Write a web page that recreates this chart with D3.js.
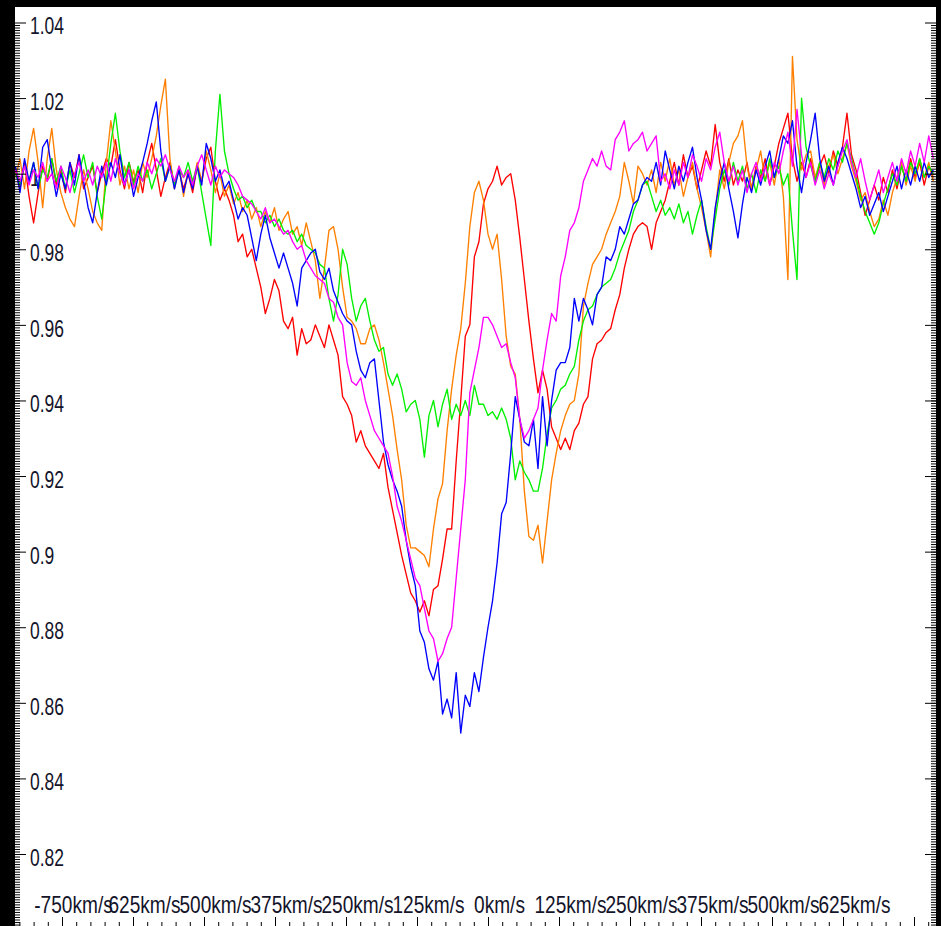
<!DOCTYPE html>
<html>
<head>
<meta charset="utf-8">
<script src="https://cdn.jsdelivr.net/npm/d3@7"></script>
<style>
  html, body { margin: 0; padding: 0; background: #000; }
  svg { display: block; }
</style>
</head>
<body>
<svg id="chart" width="941" height="926"></svg>
<script>
// Velocity grid of the spectra (km/s): first sample and spacing
const velocityStart = -832;
const velocityStep = 8;

// Normalised flux per spectrum, one value per velocity sample
const red = [
  1.001,0.996,1.003,0.994,0.987,0.995,1.002,0.998,1.004,0.997,
  1.001,0.995,1.003,0.999,1.005,0.996,0.999,1.002,0.995,1.000,
  1.004,1.002,1.009,1.001,0.996,1.003,0.998,1.001,0.995,1.003,
  1.008,1.001,0.994,0.999,1.003,0.997,1.001,0.996,1.000,0.995,
  1.002,0.998,1.004,1.007,0.998,0.993,0.996,0.993,0.989,0.982,
  0.984,0.978,0.980,0.975,0.970,0.963,0.967,0.972,0.969,0.961,
  0.959,0.962,0.952,0.959,0.955,0.956,0.960,0.957,0.954,0.960,
  0.956,0.952,0.941,0.939,0.936,0.929,0.932,0.928,0.926,0.924,
  0.922,0.926,0.917,0.911,0.905,0.899,0.894,0.889,0.887,0.884,
  0.887,0.883,0.890,0.891,0.898,0.906,0.906,0.924,0.940,0.957,
  0.960,0.978,0.982,0.992,0.996,0.998,1.002,0.997,0.999,1.000,
  0.993,0.983,0.972,0.961,0.951,0.942,0.948,0.943,0.933,0.930,
  0.927,0.930,0.927,0.932,0.934,0.939,0.941,0.951,0.955,0.956,
  0.958,0.959,0.964,0.968,0.975,0.980,0.984,0.986,0.987,0.986,
  0.980,0.987,0.990,0.993,0.998,1.003,0.997,1.005,0.999,1.002,
  0.996,1.001,1.006,1.002,1.013,1.003,0.998,1.004,0.997,1.001,
  0.998,1.003,0.996,1.002,0.999,1.004,0.997,1.002,1.008,1.012,
  1.016,1.004,0.998,1.003,0.999,1.004,0.998,1.002,1.005,1.000,
  1.006,1.002,1.007,1.016,1.005,1.001,0.995,0.989,0.993,0.997,
  0.993,0.999,0.995,1.001,0.996,1.002,0.998,1.004,0.999,1.003,
  0.997,1.002,0.999
];

const orange = [
  0.999,1.004,0.996,1.006,1.012,1.003,0.991,1.004,1.012,1.001,
  0.995,0.991,0.988,0.986,0.994,1.001,0.996,0.990,0.987,0.985,
  1.003,1.014,1.006,0.997,1.002,0.996,1.001,0.995,1.003,0.999,
  1.004,1.010,1.018,1.025,1.004,0.996,1.002,0.994,1.001,0.997,
  1.003,0.998,1.006,1.001,0.995,1.000,0.994,0.997,0.992,0.995,
  0.990,0.993,0.988,0.991,0.986,0.990,0.987,0.991,0.985,0.988,
  0.990,0.984,0.986,0.981,0.987,0.982,0.977,0.967,0.975,0.985,
  0.986,0.980,0.970,0.962,0.961,0.959,0.955,0.955,0.959,0.960,
  0.956,0.950,0.943,0.936,0.927,0.919,0.907,0.901,0.901,0.900,
  0.899,0.896,0.906,0.914,0.918,0.932,0.943,0.952,0.959,0.971,
  0.986,0.995,0.998,0.993,0.984,0.980,0.984,0.972,0.957,0.949,
  0.947,0.935,0.916,0.904,0.903,0.907,0.897,0.908,0.919,0.926,
  0.932,0.936,0.939,0.940,0.947,0.965,0.971,0.976,0.978,0.980,
  0.984,0.987,0.990,0.994,1.003,0.998,0.992,1.002,1.000,0.997,
  1.001,0.995,1.003,0.998,1.004,0.997,1.001,0.994,0.999,1.003,
  0.996,0.991,0.985,0.978,0.990,1.001,0.996,1.003,1.008,1.010,
  1.014,1.002,0.996,1.001,1.006,0.998,1.003,0.997,1.004,0.994,
  0.972,1.031,1.009,1.001,1.005,1.006,0.999,1.003,0.997,1.002,
  1.005,1.000,1.004,1.008,1.002,0.998,0.993,0.995,0.990,0.986,
  0.988,0.993,0.989,0.995,0.999,1.003,0.997,1.002,0.998,1.004,
  0.999,1.003,0.998
];

const green = [
  1.000,0.997,1.002,0.998,1.003,0.996,1.001,0.999,1.004,0.998,
  1.002,0.996,1.001,0.995,1.000,1.005,0.999,1.003,0.994,0.988,
  0.998,1.008,1.016,1.006,0.999,1.003,0.997,1.002,0.998,1.001,
  0.996,1.000,1.004,0.998,1.002,0.997,1.001,0.999,1.003,0.998,
  1.002,0.995,0.988,0.981,1.006,1.021,1.006,1.000,0.996,0.993,
  0.994,0.991,0.993,0.990,0.990,0.987,0.989,0.986,0.988,0.985,
  0.984,0.985,0.982,0.984,0.981,0.980,0.979,0.976,0.975,0.967,
  0.961,0.968,0.980,0.976,0.967,0.961,0.965,0.967,0.961,0.956,
  0.953,0.954,0.947,0.944,0.947,0.943,0.937,0.939,0.940,0.935,
  0.925,0.936,0.940,0.933,0.939,0.943,0.935,0.939,0.936,0.940,
  0.936,0.944,0.939,0.939,0.936,0.937,0.935,0.938,0.935,0.930,
  0.919,0.924,0.921,0.919,0.916,0.916,0.922,0.931,0.938,0.940,
  0.943,0.944,0.947,0.949,0.956,0.961,0.964,0.965,0.968,0.970,
  0.971,0.972,0.975,0.979,0.982,0.985,0.990,0.993,0.997,0.998,
  0.994,0.990,0.993,0.989,0.991,0.988,0.992,0.987,0.990,0.984,
  0.989,0.993,0.986,0.980,0.988,0.996,1.001,0.997,1.003,0.998,
  1.002,0.996,1.000,0.995,1.001,0.998,1.004,0.999,1.002,0.997,
  1.000,0.985,0.972,1.020,1.007,1.002,0.998,1.003,0.999,1.004,
  1.001,1.006,1.003,1.008,1.004,0.999,0.994,0.990,0.987,0.984,
  0.987,0.992,0.996,1.000,0.997,1.002,0.998,1.003,1.000,1.004,
  0.999,1.002,1.000
];

const blue = [
  1.002,0.995,1.004,0.998,1.003,0.996,1.007,1.009,1.001,0.994,
  1.000,0.996,1.003,0.997,1.005,0.998,0.991,0.987,0.995,1.002,
  0.997,1.003,0.999,1.005,0.997,1.001,0.994,0.999,1.003,1.008,
  1.014,1.019,1.006,0.998,1.002,0.996,1.001,0.995,1.000,0.996,
  1.002,0.997,1.008,1.004,0.998,1.001,0.996,0.998,0.993,0.988,
  0.991,0.989,0.983,0.977,0.984,0.989,0.983,0.979,0.975,0.979,
  0.975,0.971,0.965,0.975,0.977,0.979,0.980,0.974,0.972,0.975,
  0.969,0.966,0.963,0.961,0.960,0.953,0.948,0.946,0.950,0.951,
  0.940,0.929,0.923,0.919,0.916,0.912,0.903,0.896,0.891,0.879,
  0.876,0.869,0.866,0.871,0.857,0.861,0.856,0.868,0.852,0.862,
  0.859,0.868,0.863,0.872,0.880,0.887,0.897,0.910,0.913,0.926,
  0.941,0.935,0.929,0.928,0.935,0.922,0.941,0.928,0.940,0.948,
  0.950,0.950,0.954,0.967,0.961,0.967,0.964,0.960,0.968,0.970,
  0.978,0.977,0.980,0.986,0.984,0.988,0.992,0.993,0.997,0.999,
  0.998,1.003,0.997,1.006,1.001,0.996,1.002,0.998,1.003,1.007,
  0.999,0.993,0.985,0.980,0.991,0.998,1.003,0.996,0.990,0.983,
  0.992,0.999,0.995,1.001,0.997,1.002,1.006,0.999,1.004,1.010,
  1.008,1.014,1.002,0.995,1.003,1.009,1.016,1.004,0.998,1.002,
  0.997,1.003,1.007,1.004,1.000,0.996,0.991,0.994,0.989,0.992,
  0.995,0.990,0.994,0.998,1.002,0.996,1.001,0.997,1.002,0.998,
  1.003,0.999,1.001
];

const magenta = [
  1.001,0.998,1.002,0.997,1.001,0.999,1.003,0.998,1.000,0.996,
  1.002,0.999,0.995,1.000,1.003,0.998,1.001,0.997,1.002,0.999,
  1.003,0.998,1.004,1.000,0.997,1.001,0.996,1.000,0.998,1.003,
  1.000,1.004,1.002,1.005,1.001,0.998,1.002,0.999,1.001,0.997,
  1.002,1.005,1.001,0.997,1.002,0.999,1.001,1.000,0.999,0.997,
  0.994,0.993,0.992,0.990,0.988,0.991,0.987,0.988,0.986,0.984,
  0.985,0.982,0.980,0.981,0.977,0.975,0.973,0.972,0.971,0.967,
  0.966,0.962,0.960,0.950,0.945,0.944,0.946,0.940,0.936,0.932,
  0.930,0.928,0.926,0.920,0.912,0.908,0.903,0.898,0.893,0.891,
  0.885,0.879,0.877,0.871,0.873,0.877,0.880,0.893,0.906,0.919,
  0.942,0.948,0.954,0.962,0.962,0.960,0.957,0.954,0.955,0.950,
  0.946,0.935,0.930,0.932,0.935,0.938,0.948,0.956,0.963,0.961,
  0.973,0.978,0.985,0.987,0.991,0.998,1.001,1.004,1.002,1.006,
  1.002,1.001,1.009,1.011,1.014,1.006,1.008,1.009,1.011,1.006,
  1.008,1.010,0.998,1.000,0.996,1.001,0.997,1.003,0.999,1.005,
  1.002,0.998,1.004,1.001,1.007,1.011,1.003,0.998,1.002,0.997,
  1.001,0.995,1.000,1.003,0.998,1.002,0.997,1.003,1.000,1.006,
  1.011,1.002,1.017,1.005,0.999,1.003,0.997,1.001,0.996,1.000,
  0.997,1.002,1.006,1.009,1.003,0.999,1.004,0.998,0.993,0.997,
  1.001,0.995,0.999,1.003,0.998,1.004,1.000,1.006,1.002,1.008,
  1.003,1.010,1.004
];

// Axis ticks and their labels
const yTicks = [0.82, 0.84, 0.86, 0.88, 0.90, 0.92, 0.94, 0.96, 0.98, 1.00, 1.02, 1.04];
const yTickLabels = ["0.82", "0.84", "0.86", "0.88", "0.9", "0.92", "0.94", "0.96", "0.98", "1", "1.02", "1.04"];
const xTicks = [-750, -625, -500, -375, -250, -125, 0, 125, 250, 375, 500, 625, 750];
const xTickLabels = ["-750km/s", "625km/s", "500km/s", "375km/s", "250km/s", "125km/s",
                     "0km/s", "125km/s", "250km/s", "375km/s", "500km/s", "625km/s"];

const seriesList = [
  { name: "red", values: red, color: "#ff0000" },
  { name: "orange", values: orange, color: "#ff8000" },
  { name: "green", values: green, color: "#00f000" },
  { name: "blue", values: blue, color: "#0000ff" },
  { name: "magenta", values: magenta, color: "#ff00ff" }
];

const velocity = red.map((_, i) => velocityStart + i * velocityStep);

// Frame geometry
const W = 941, H = 926;
const plot = { left: 15, top: 7, right: 936, bottom: 926 };

const x = d3.scaleLinear().domain([-750, 750]).range([62, 914]);
const y = d3.scaleLinear().domain([0.82, 1.04]).range([854, 22.5]);

const svg = d3.select("#chart");
svg.append("rect").attr("width", W).attr("height", H).attr("fill", "#000");
svg.append("rect")
  .attr("x", plot.left).attr("y", plot.top)
  .attr("width", plot.right - plot.left).attr("height", plot.bottom - plot.top)
  .attr("fill", "#fff");

svg.append("defs").append("clipPath").attr("id", "plotClip")
  .append("rect")
  .attr("x", plot.left).attr("y", plot.top)
  .attr("width", plot.right - plot.left).attr("height", plot.bottom - plot.top);

const fontFamily = "'Liberation Sans', Arial, sans-serif";
const textColor = "#14142a";

// Value labels on the left
svg.append("g").selectAll("text")
  .data(yTicks)
  .join("text")
  .attr("transform", d => `translate(30,${y(d) + 4}) scale(0.76,1)`)
  .attr("dominant-baseline", "central")
  .attr("font-family", fontFamily)
  .attr("font-size", 23)
  .attr("fill", textColor)
  .text((d, i) => yTickLabels[i]);

// Velocity labels along the bottom
svg.append("g").selectAll("text")
  .data(xTickLabels)
  .join("text")
  .attr("transform", (d, i) => `translate(${x(xTicks[i]) + 11.5},913) scale(0.83,1)`)
  .attr("text-anchor", "middle")
  .attr("font-family", fontFamily)
  .attr("font-size", 23)
  .attr("fill", textColor)
  .text(d => d);

// Spectra
const line = d3.line()
  .x((d, i) => x(velocity[i]))
  .y(d => y(d));

svg.append("g").attr("clip-path", "url(#plotClip)")
  .selectAll("path")
  .data(seriesList)
  .join("path")
  .attr("d", s => line(s.values))
  .attr("fill", "none")
  .attr("stroke", s => s.color)
  .attr("stroke-width", 1.35)
  .attr("stroke-linejoin", "round");

// Tick marks on the frame
const yMinor = d3.range(-40, 360).map(k => 0.80 + k * 0.02 / 30)
  .filter(v => y(v) >= plot.top && y(v) <= plot.bottom);
const xMinor = d3.range(-825, 800, 25).filter(v => x(v) > plot.left && x(v) < plot.right);

function styleAxis(g) {
  g.select(".domain").remove();
  g.selectAll("line").attr("stroke", "#000").attr("stroke-width", 1);
  g.selectAll("text").remove();
}

svg.append("g").attr("transform", `translate(${plot.left},0)`)
  .call(d3.axisRight(y).tickValues(yMinor).tickSize(5).tickFormat(""))
  .call(styleAxis);
svg.append("g").attr("transform", `translate(${plot.left},0)`)
  .call(d3.axisRight(y).tickValues(yTicks).tickSize(11).tickFormat(""))
  .call(styleAxis);

svg.append("g").attr("transform", `translate(${plot.right},0)`)
  .call(d3.axisLeft(y).tickValues(yMinor).tickSize(5).tickFormat(""))
  .call(styleAxis);
svg.append("g").attr("transform", `translate(${plot.right},0)`)
  .call(d3.axisLeft(y).tickValues(yTicks).tickSize(11).tickFormat(""))
  .call(styleAxis);

svg.append("g").attr("transform", `translate(0,${plot.bottom})`)
  .call(d3.axisTop(x).tickValues(xMinor).tickSize(4).tickFormat(""))
  .call(styleAxis);
svg.append("g").attr("transform", `translate(0,${plot.bottom})`)
  .call(d3.axisTop(x).tickValues(xTicks).tickSize(9).tickFormat(""))
  .call(styleAxis);
</script>
</body>
</html>
